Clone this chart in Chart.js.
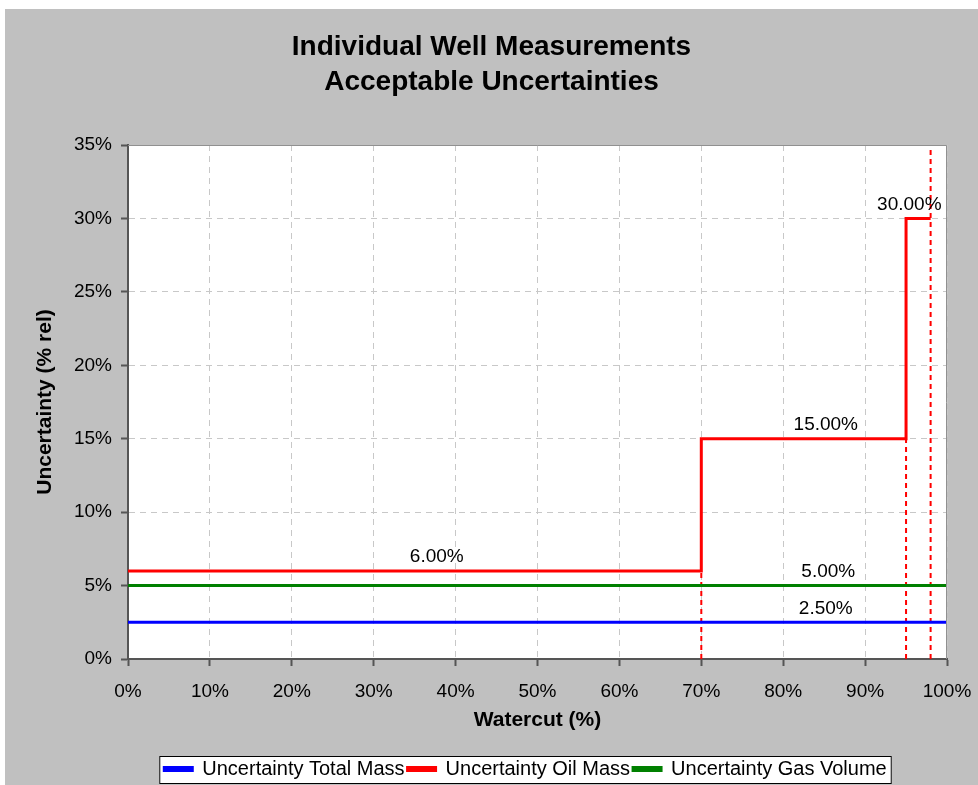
<!DOCTYPE html>
<html>
<head>
<meta charset="utf-8">
<script src="https://cdn.jsdelivr.net/npm/chart.js@4"></script>
<style>
  html, body { margin: 0; padding: 0; background: #ffffff; }
  #wrap { width: 978px; height: 785px; }
</style>
</head>
<body>
<div id="wrap"><canvas id="myChart" width="978" height="785"></canvas></div>
<script>
// step line for oil mass (watercut %, uncertainty %)
const oilX = [0, 70, 70, 95, 95, 98];
const oilY = [6, 6, 15, 15, 30, 30];
const totalX = [0, 100];
const totalY = [2.5, 2.5];
const gasX = [0, 100];
const gasY = [5, 5];
// dotted red markers: watercut and top of each
const markX = [70, 95, 98];
const markTop = [6, 15, 35];
// value labels: value and watercut where it is written
const labelVal = [6, 15, 30, 5, 2.5];
const labelAt = [37.7, 85.2, 95.4, 85.5, 85.2];

const xTicks = [0, 10, 20, 30, 40, 50, 60, 70, 80, 90, 100];
const yTicks = [0, 5, 10, 15, 20, 25, 30, 35];

const FONT = "'Liberation Sans', Arial, sans-serif";

function pts(xs, ys) {
  return xs.map((x, i) => ({x: x, y: ys[i]}));
}

const datasets = [
  {label: "Uncertainty Total Mass", data: pts(totalX, totalY), borderColor: "#0000ff", backgroundColor: "#0000ff", borderWidth: 3},
  {label: "Uncertainty Oil Mass", data: pts(oilX, oilY), borderColor: "#ff0000", backgroundColor: "#ff0000", borderWidth: 3},
  {label: "Uncertainty Gas Volume", data: pts(gasX, gasY), borderColor: "#008000", backgroundColor: "#008000", borderWidth: 3}
];
markX.forEach((x, i) => {
  datasets.push({
    label: "marker",
    data: pts([x, x], [0, markTop[i]]),
    borderColor: "#ff0000",
    backgroundColor: "#ff0000",
    borderWidth: 2,
    borderDash: [5, 4]
  });
});

const LEGEND_DX = 34;
const LEGEND_DY = 6;

const backdrop = {
  id: "backdrop",
  afterLayout(chart) {
    // legend sits right of centre and low in the original
    const lg = chart.legend;
    lg.left += LEGEND_DX;
    lg.right += LEGEND_DX;
    lg.top += LEGEND_DY;
    lg.bottom += LEGEND_DY;
    lg.legendHitBoxes.forEach(b => { b.left += LEGEND_DX; b.top += LEGEND_DY; });
  },
  beforeDraw(chart) {
    const ctx = chart.ctx;
    const a = chart.chartArea;
    ctx.save();
    ctx.fillStyle = "#ffffff";
    ctx.fillRect(0, 0, chart.width, chart.height);
    ctx.fillStyle = "#c0c0c0";
    ctx.fillRect(5, 9, chart.width - 5, chart.height - 9);
    ctx.fillStyle = "#ffffff";
    ctx.fillRect(a.left, a.top, a.right - a.left, a.bottom - a.top);
    // legend frame
    const lg = chart.legend;
    const boxes = lg.legendHitBoxes;
    if (boxes && boxes.length) {
      const l = Math.min(...boxes.map(b => b.left)) - 5;
      const r = Math.max(...boxes.map(b => b.left + b.width)) + 5;
      const t = lg.top;
      const btm = lg.top + 28;
      ctx.fillStyle = "#ffffff";
      ctx.fillRect(l, t, r - l, btm - t);
      ctx.strokeStyle = "#000000";
      ctx.lineWidth = 1;
      ctx.strokeRect(l + 0.5, t + 0.5, r - l - 1, btm - t - 1);
    }
    ctx.restore();
  },
  afterDatasetsDraw(chart) {
    const ctx = chart.ctx;
    const a = chart.chartArea;
    const xs = chart.scales.x, ys = chart.scales.y;
    ctx.save();
    // light frame on top and right
    ctx.strokeStyle = "#909090";
    ctx.lineWidth = 1;
    ctx.beginPath();
    ctx.moveTo(a.left, a.top + 0.5);
    ctx.lineTo(a.right - 0.5, a.top + 0.5);
    ctx.lineTo(a.right - 0.5, a.bottom);
    ctx.stroke();
    // value labels
    ctx.fillStyle = "#000000";
    ctx.font = "19px " + FONT;
    ctx.textAlign = "center";
    ctx.textBaseline = "middle";
    labelVal.forEach((v, i) => {
      ctx.fillText(v.toFixed(2) + "%", xs.getPixelForValue(labelAt[i]), ys.getPixelForValue(v) - 14);
    });
    ctx.restore();
  }
};

new Chart("myChart", {
  type: "scatter",
  data: {datasets: datasets},
  options: {
    responsive: false,
    animation: false,
    showLine: true,
    elements: {point: {radius: 0, hoverRadius: 0}, line: {tension: 0}},
    layout: {padding: {top: 9, left: 5, right: 0, bottom: 2}},
    plugins: {
      tooltip: {enabled: false},
      title: {
        display: true,
        text: ["Individual Well Measurements", "Acceptable Uncertainties"],
        color: "#000000",
        font: {family: FONT, size: 28, weight: "bold", lineHeight: 1.25},
        padding: {top: 21, bottom: 45}
      },
      legend: {
        position: "bottom",
        labels: {
          color: "#000000",
          font: {family: FONT, size: 20},
          boxWidth: 28,
          boxHeight: 3,
          padding: 3,
          filter: item => item.text !== "marker"
        }
      }
    },
    scales: {
      x: {
        type: "linear",
        min: 0,
        max: 100,
        afterBuildTicks: s => { s.ticks = xTicks.map(v => ({value: v})); },
        afterFit: s => { s.height = 91; s.paddingRight = 31; },
        grid: {color: "#c8c8c8", tickColor: "#555555", tickLength: 7, tickWidth: 2, tickBorderDash: []},
        border: {color: "#555555", width: 2, dash: [6, 5]},
        ticks: {color: "#000000", font: {family: FONT, size: 19}, padding: 14, maxRotation: 0, callback: v => v + "%"},
        title: {display: true, text: "Watercut (%)", color: "#000000", font: {family: FONT, size: 21, weight: "bold"}, padding: {top: 4, bottom: 17}}
      },
      y: {
        type: "linear",
        min: 0,
        max: 35,
        afterBuildTicks: s => { s.ticks = yTicks.map(v => ({value: v})); },
        afterFit: s => { s.width = 123; },
        grid: {color: "#c8c8c8", tickColor: "#555555", tickLength: 7, tickWidth: 2, tickBorderDash: []},
        border: {color: "#555555", width: 2, dash: [6, 5]},
        ticks: {color: "#000000", font: {family: FONT, size: 19}, padding: 9, callback: v => v + "%"},
        title: {display: true, text: "Uncertainty (% rel)", color: "#000000", font: {family: FONT, size: 21, weight: "bold"}, padding: {top: 28, bottom: 0}}
      }
    }
  },
  plugins: [backdrop]
});
</script>
</body>
</html>
